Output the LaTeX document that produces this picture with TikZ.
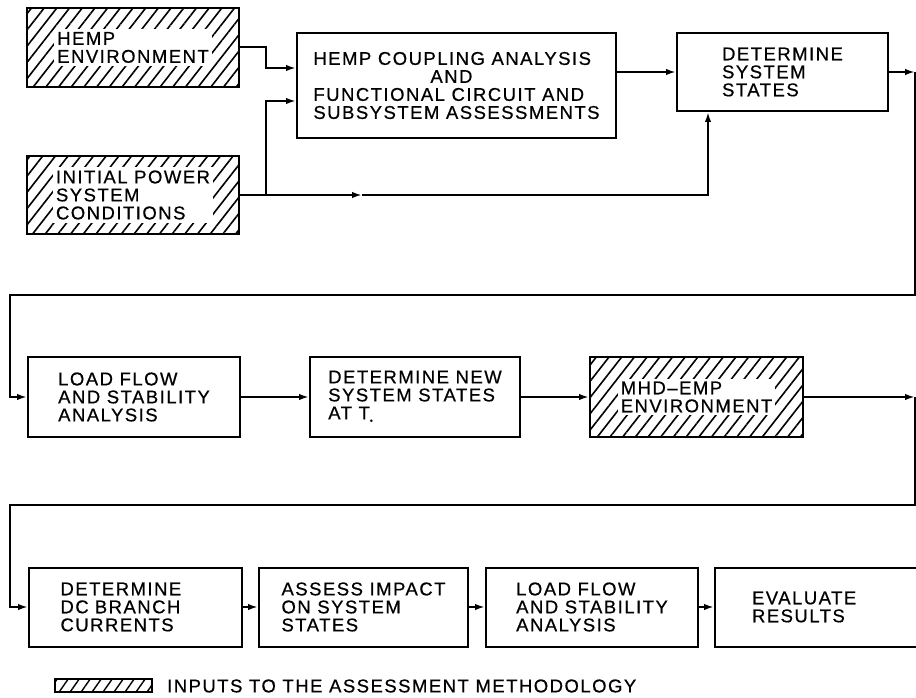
\documentclass[tikz,border=0pt]{standalone}
\usepackage{fontspec}
\setmainfont{Liberation Sans}[LetterSpace=8, FakeBold=0.6]
\usetikzlibrary{arrows.meta,patterns.meta,calc}

\begin{document}
\begin{tikzpicture}[
    x=1pt, y=-1pt,
    every node/.style={font=\fontsize{18.5}{18}\selectfont},
    blk/.style={draw, line width=2pt, minimum width=212pt, minimum height=79pt, align=left, inner sep=0pt},
    hatchbox/.style={blk, pattern={Lines[angle=52,distance=10pt,line width=1.6pt]}},
    hlbl/.style={fill=white, align=left, inner sep=3pt},
    conn/.style={-{Latex[length=10pt,width=6.5pt]}, line width=2pt},
  ]
    \useasboundingbox (0,0) rectangle (916,698);
    \clip (0,0) rectangle (916,698);

    % ===== ROW 1: inputs, coupling, system states =====
    \node[hatchbox] (hemp) at (133,47.5) {};
    \node[hlbl] (hempl) at (hemp) {HEMP\\ENVIRONMENT};

    \node[hatchbox, minimum height=78pt] (init) at (133,195) {};
    \node[hlbl] (initl) at (init) {INITIAL POWER\\SYSTEM\\CONDITIONS};

    \node[blk, minimum width=319pt, minimum height=105pt] (coupl) at (456.5,85.5)
      {HEMP COUPLING ANALYSIS\\\hspace*{117pt}AND\\FUNCTIONAL CIRCUIT AND\\SUBSYSTEM ASSESSMENTS};

    \node[blk, minimum width=211pt, minimum height=78pt] (detsys) at (782.5,72)
      {DETERMINE\\SYSTEM\\STATES};

    % ===== ROW 2: load flow, new states, MHD-EMP =====
    \node[blk, minimum height=80pt] (load1) at (134,397)
      {LOAD FLOW\\AND STABILITY\\ANALYSIS};
    \node[blk, minimum width=210pt, minimum height=80pt] (detnew) at (415,397)
      {DETERMINE NEW\\SYSTEM STATES\\AT T\raisebox{-4pt}{\footnotesize\textbullet}};
    \node[hatchbox, minimum width=213pt, minimum height=80pt] (mhd) at (696.5,397) {};
    \node[hlbl] (mhdl) at (mhd) {MHD--EMP\\ENVIRONMENT};

    % ===== ROW 3: currents, impact, load flow, results =====
    \node[blk, minimum width=213pt, text width=150pt] (dc) at (135.5,607)
      {DETERMINE\\DC BRANCH\\CURRENTS};
    \node[blk, minimum width=209pt] (assess) at (363.5,607)
      {ASSESS IMPACT\\ON SYSTEM\\STATES};
    \node[blk] (load2) at (592,607)
      {LOAD FLOW\\AND STABILITY\\ANALYSIS};
    \node[blk, minimum width=215pt, text width=141pt] (eval) at (822.5,607)
      {EVALUATE\\RESULTS};

    % ===== CONNECTORS =====
    % inputs into coupling box
    \coordinate (cin1) at ($(coupl.north west)+(0,36)$);
    \coordinate (cin2) at ($(coupl.north west)+(0,69)$);
    \draw[conn] (hemp.east) -- ++(26,0) |- (cin1);

    \coordinate (jn) at ($(init.east)+(26,0)$);
    \coordinate (mid1) at ($(init.east)+(122,0)$);
    \draw[conn] (init.east) -- (mid1);
    \draw[conn] (mid1) -| ($(detsys.south west)+(32,0)$);
    \draw[conn] (jn) |- (cin2);

    \draw[conn] (detsys.west -| coupl.east) -- (detsys.west);

    % loop down to row 2
    \coordinate (r1) at ($(detsys.east)+(26,0)$);
    \coordinate (l1) at (10,295);
    \draw[conn] (detsys.east) -- (r1);
    \draw[conn] (r1) |- (l1) |- (load1.west);

    \draw[conn] (load1) -- (detnew);
    \draw[conn] (detnew) -- (mhd);

    % loop down to row 3
    \coordinate (r2) at (915,397);
    \coordinate (l2) at (10,505);
    \draw[conn] (mhd.east) -- (r2);
    \draw[conn] (r2) |- (l2) |- (dc.west);

    \draw[conn] (dc) -- (assess);
    \draw[conn] (assess) -- (load2);
    \draw[conn] (load2) -- (eval);

    % ===== KEY =====
    \node[hatchbox, minimum width=97pt, minimum height=13pt,
      pattern={Lines[angle=55,distance=9pt,line width=1.4pt]}] (key) at (103.5,685.5) {};
    \node[anchor=west, inner sep=0pt] (keyl) at (167,686)
      {INPUTS TO THE ASSESSMENT METHODOLOGY};
  \end{tikzpicture}
\end{document}
